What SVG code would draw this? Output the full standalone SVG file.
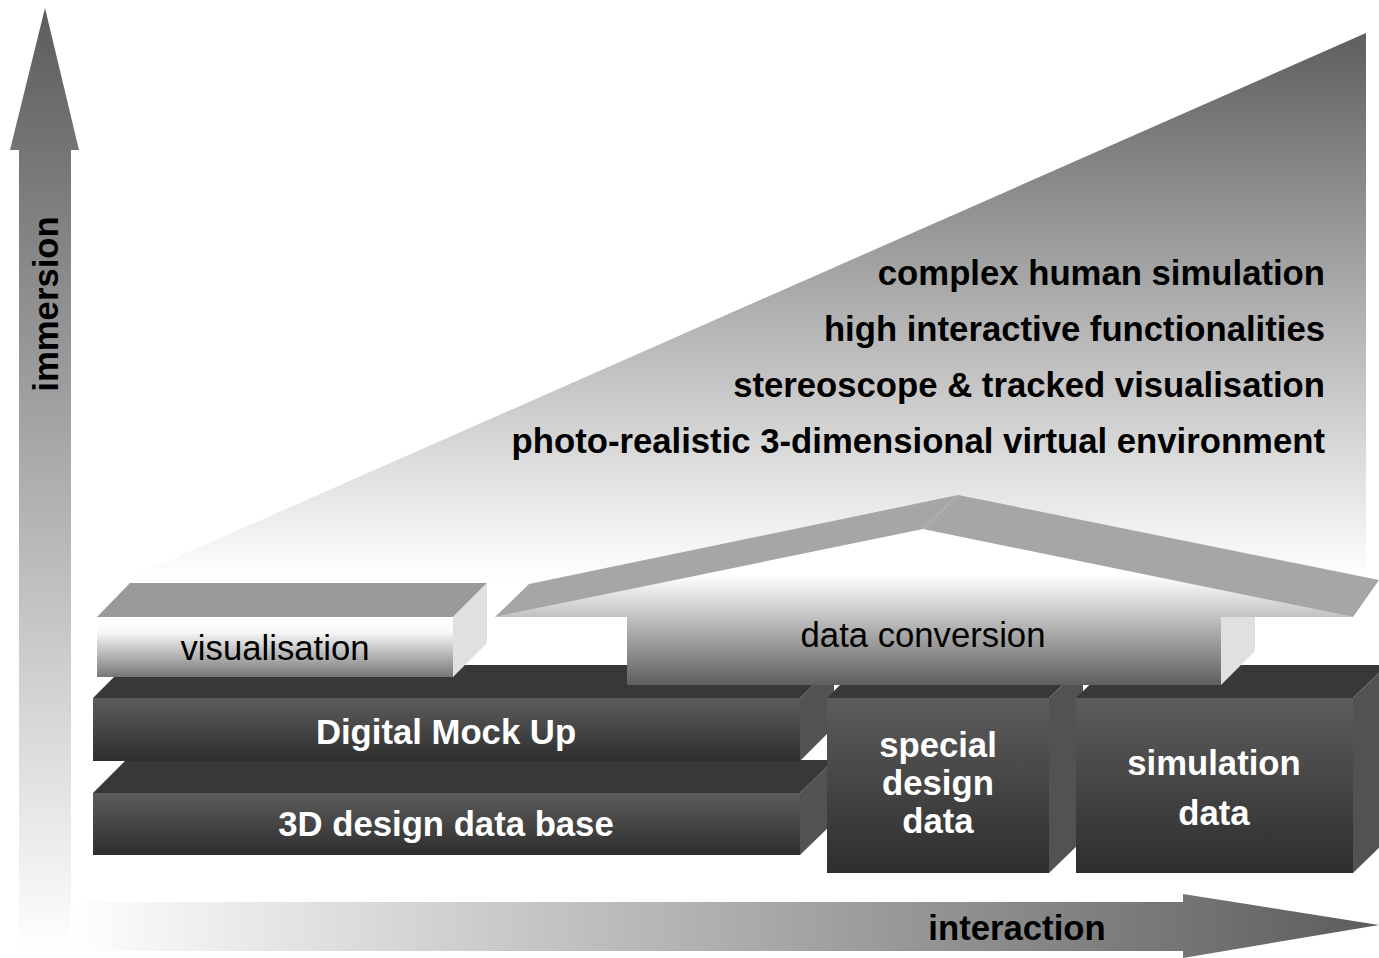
<svg xmlns="http://www.w3.org/2000/svg" width="1379" height="958" viewBox="0 0 1379 958">
  <defs>
    <!-- shading for the rising wedge behind the labels -->
    <linearGradient id="gWedge" gradientUnits="userSpaceOnUse" x1="0" y1="33" x2="0" y2="580">
      <stop offset="0" stop-color="#5e5e5e"/>
      <stop offset="1" stop-color="#ffffff"/>
    </linearGradient>
    <!-- vertical axis: dark at the tip, fading to white -->
    <linearGradient id="gUp" gradientUnits="userSpaceOnUse" x1="0" y1="8" x2="0" y2="950">
      <stop offset="0" stop-color="#5c5c5c"/>
      <stop offset="1" stop-color="#ffffff"/>
    </linearGradient>
    <!-- horizontal axis: white at the origin, dark at the tip -->
    <linearGradient id="gRight" gradientUnits="userSpaceOnUse" x1="70" y1="0" x2="1379" y2="0">
      <stop offset="0" stop-color="#ffffff"/>
      <stop offset="1" stop-color="#5c5c5c"/>
    </linearGradient>
    <!-- front faces of the dark blocks -->
    <linearGradient id="gDark" x1="0" y1="0" x2="0" y2="1">
      <stop offset="0" stop-color="#5c5c5c"/>
      <stop offset="1" stop-color="#2e2e2e"/>
    </linearGradient>
    <!-- front face of the visualisation block -->
    <linearGradient id="gVis" gradientUnits="userSpaceOnUse" x1="0" y1="617" x2="0" y2="677">
      <stop offset="0" stop-color="#ffffff"/>
      <stop offset="0.25" stop-color="#f8f8f8"/>
      <stop offset="1" stop-color="#767676"/>
    </linearGradient>
    <!-- front face of the data conversion block -->
    <linearGradient id="gConv" gradientUnits="userSpaceOnUse" x1="0" y1="575" x2="0" y2="685">
      <stop offset="0" stop-color="#ffffff"/>
      <stop offset="1" stop-color="#5e5e5e"/>
    </linearGradient>
  </defs>
  <style>
    text { font-family: "Liberation Sans", Arial, sans-serif; font-size: 34.7px; }
    .b { font-weight: bold; }
    .dark { fill: #000000; }
    .light { fill: #ffffff; }
    .mid { text-anchor: middle; }
    .end { text-anchor: end; }
    .front { fill: url(#gDark); }
    .top { fill: #383838; }
    .side { fill: #525252; }
  </style>

  <rect x="0" y="0" width="1379" height="958" fill="#ffffff"/>

  <!-- rising wedge with the immersion levels -->
  <g id="wedge">
    <polygon points="125,580 1366,33 1366,600 125,600" fill="url(#gWedge)"/>
    <text class="b dark end" x="1325" y="285">complex human simulation</text>
    <text class="b dark end" x="1325" y="341">high interactive functionalities</text>
    <text class="b dark end" x="1325" y="397">stereoscope &amp; tracked visualisation</text>
    <text class="b dark end" x="1325" y="453">photo-realistic 3-dimensional virtual environment</text>
  </g>

  <!-- axes -->
  <g id="axes">
    <g id="axis-immersion">
      <polygon points="45,8 79,150 71,150 71,950 19,950 19,150 10,150" fill="url(#gUp)"/>
      <text class="b dark mid" transform="translate(58,304) rotate(-90)" x="0" y="0">immersion</text>
    </g>
    <g id="axis-interaction">
      <polygon points="70,902 1183,902 1183,894 1379,925 1183,958 1183,951 70,951" fill="url(#gRight)"/>
      <text class="b dark mid" x="1017" y="940">interaction</text>
    </g>
  </g>

  <!-- 3D design data base -->
  <g id="node-3d-design-data-base">
    <polygon class="top" points="93,793 126,760 834,760 800,793"/>
    <polygon class="side" points="800,793 834,760 834,822 800,855"/>
    <rect class="front" x="93" y="793" width="707" height="62"/>
    <text class="b light mid" x="446" y="836">3D design data base</text>
  </g>

  <!-- Digital Mock Up -->
  <g id="node-digital-mock-up">
    <polygon class="top" points="93,698 126,665 834,665 800,698"/>
    <polygon class="side" points="800,698 834,665 834,727 800,761"/>
    <rect class="front" x="93" y="698" width="707" height="63"/>
    <text class="b light mid" x="446" y="744">Digital Mock Up</text>
  </g>

  <!-- visualisation -->
  <g id="node-visualisation">
    <polygon points="97,617 130,583 487,583 453,617" fill="#999999"/>
    <polygon points="453,617 487,583 487,643 453,677" fill="#e0e0e0"/>
    <rect x="97" y="617" width="356" height="60" fill="url(#gVis)"/>
    <text class="dark mid" x="275" y="660">visualisation</text>
  </g>

  <!-- special design data -->
  <g id="node-special-design-data">
    <polygon class="top" points="827,698 860,665 1083,665 1049,698"/>
    <polygon class="side" points="1049,698 1083,665 1083,840 1049,873"/>
    <rect class="front" x="827" y="698" width="222" height="175"/>
    <text class="b light mid" x="938" y="757">special</text>
    <text class="b light mid" x="938" y="795">design</text>
    <text class="b light mid" x="938" y="833">data</text>
  </g>

  <!-- simulation data -->
  <g id="node-simulation-data">
    <polygon class="top" points="1076,698 1110,665 1387,665 1353,698"/>
    <polygon class="side" points="1353,698 1387,665 1387,840 1353,873"/>
    <rect class="front" x="1076" y="698" width="277" height="175"/>
    <text class="b light mid" x="1214" y="775">simulation</text>
    <text class="b light mid" x="1214" y="825">data</text>
  </g>

  <!-- data conversion: gabled block over the data sources -->
  <g id="node-data-conversion">
    <polygon points="627,685 627,617 495,617 923,529 1353,617 1221,617 1221,685" fill="url(#gConv)"/>
    <polygon points="1221,617 1255,617 1255,651 1221,685" fill="#e0e0e0"/>
    <polygon points="495,617 529,584 958,495 1379,580 1353,617 923,529" fill="#a6a6a6"/>
    <line x1="923" y1="529" x2="958" y2="495" stroke="#b9b9b9" stroke-width="1"/>
    <text class="dark mid" x="923" y="647">data conversion</text>
  </g>
</svg>
